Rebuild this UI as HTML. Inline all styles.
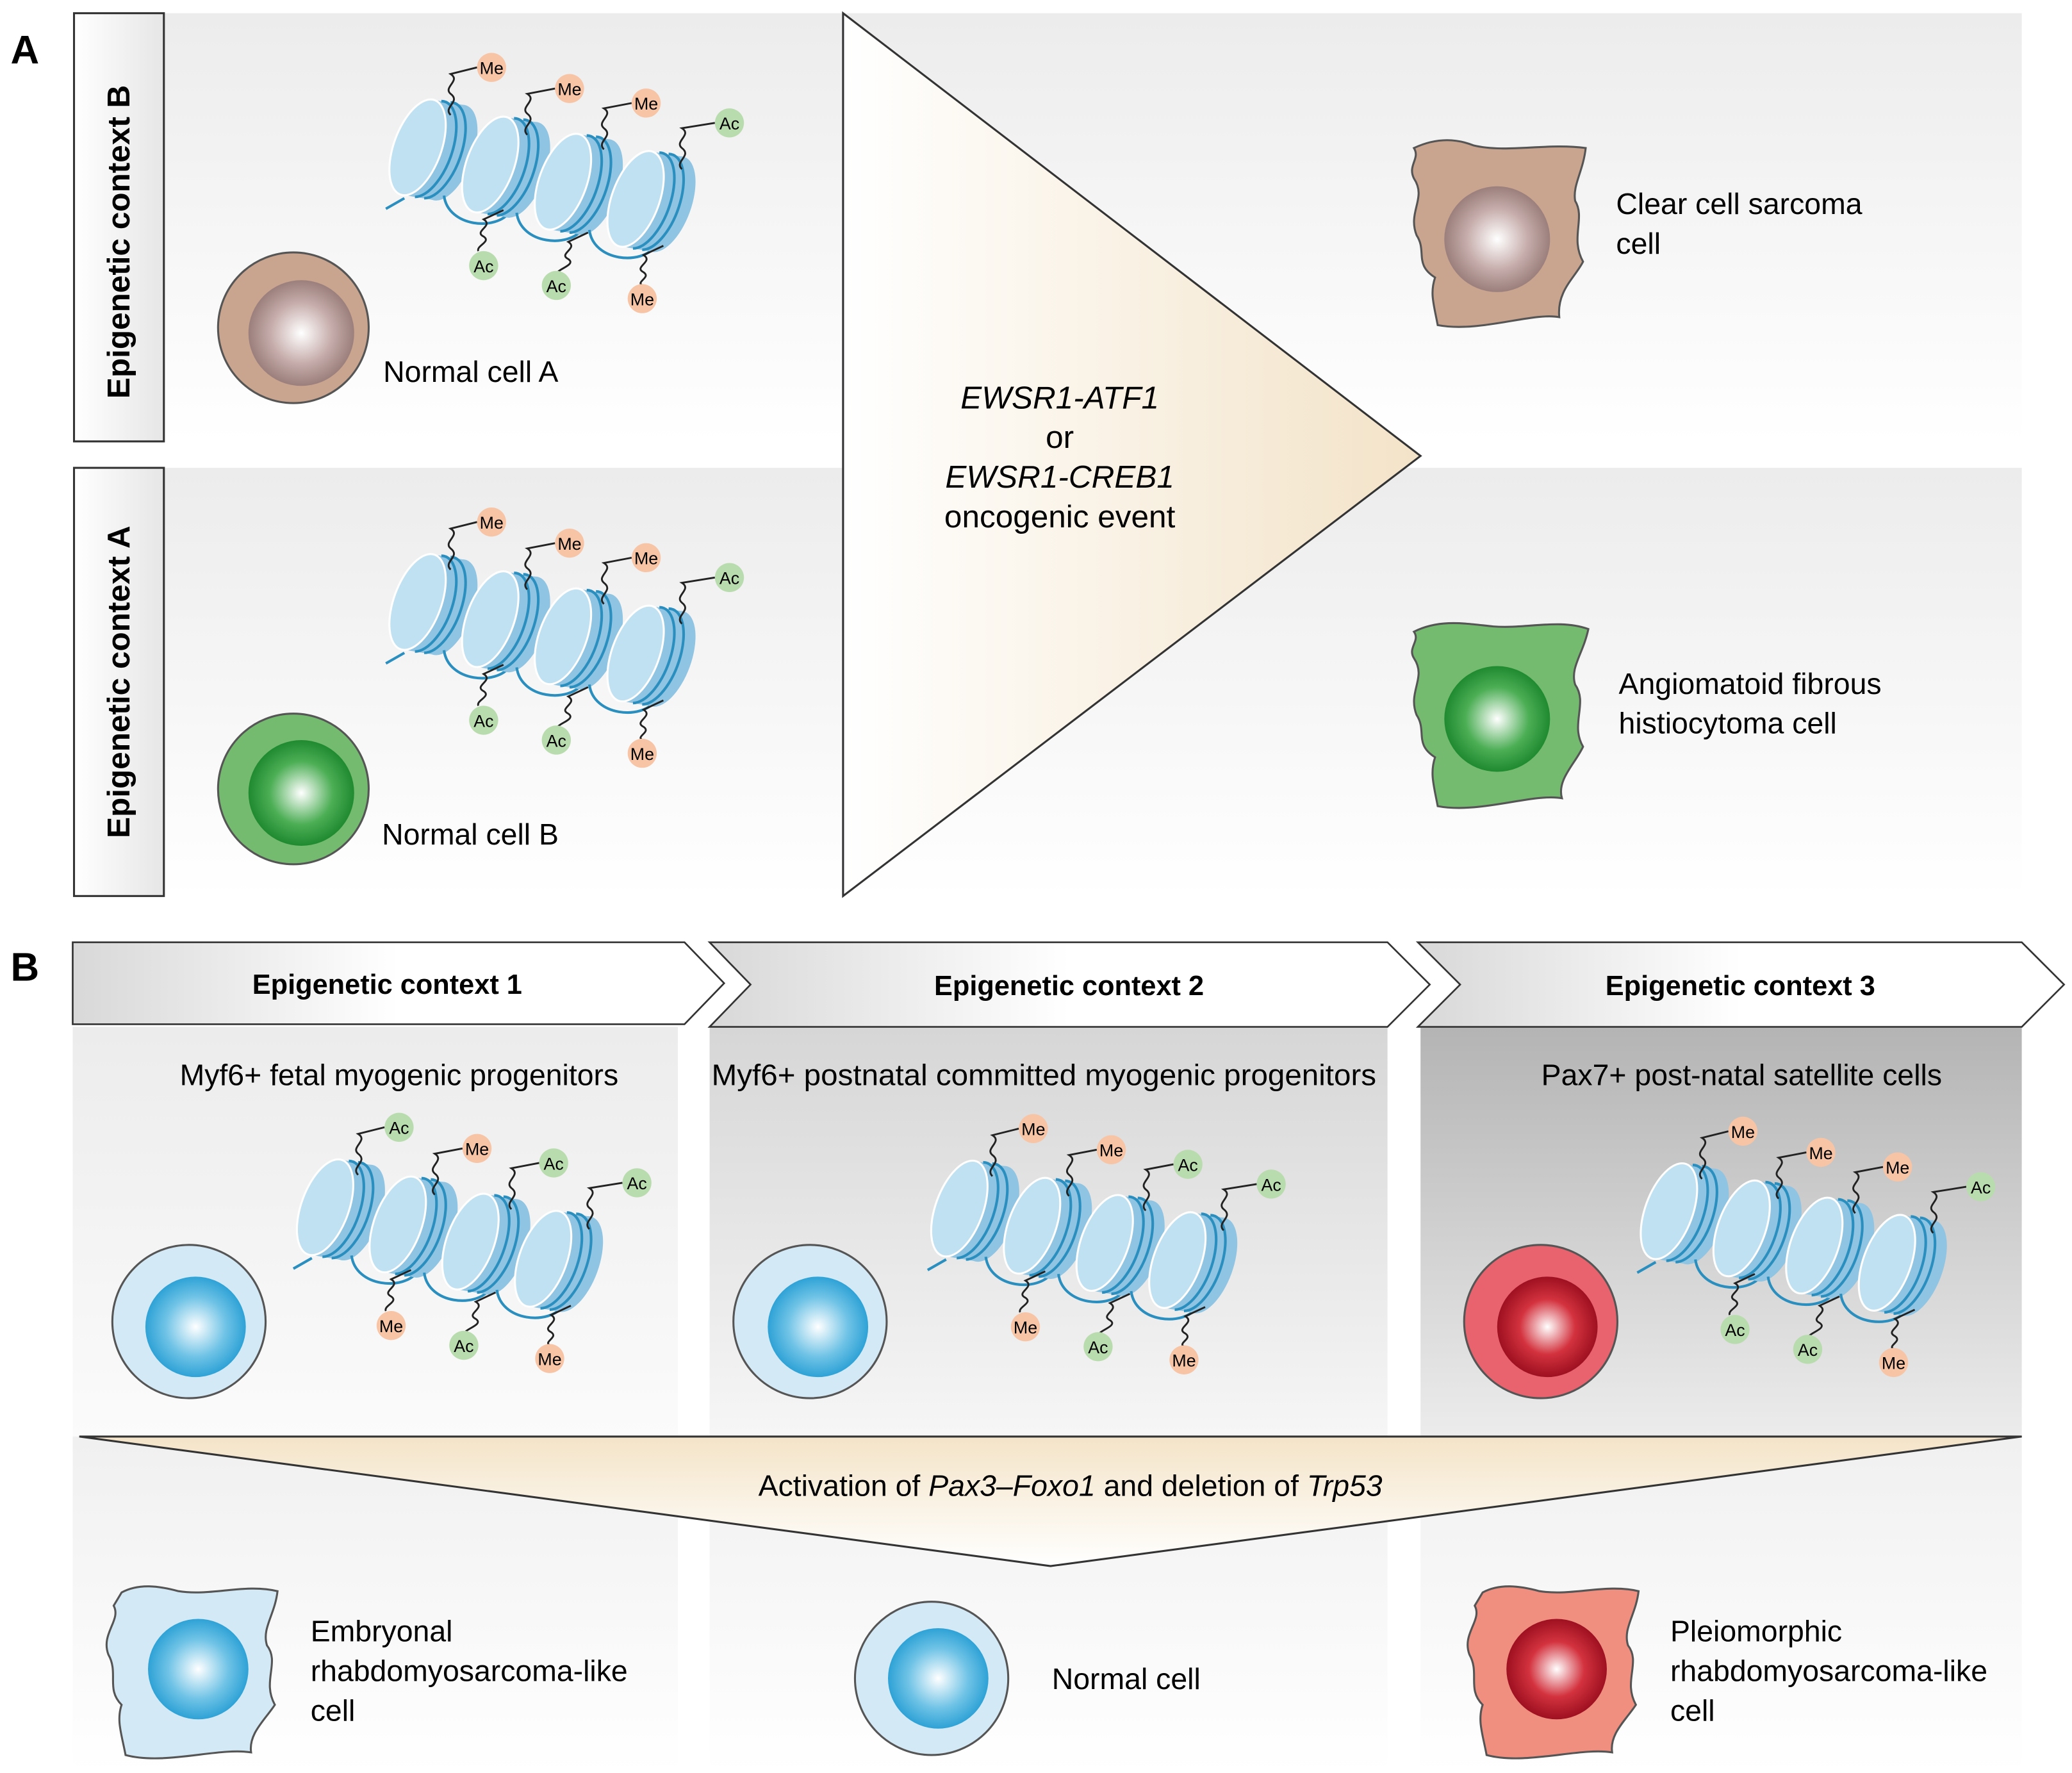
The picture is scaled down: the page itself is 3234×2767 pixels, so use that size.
<!DOCTYPE html>
<html><head><meta charset="utf-8"><style>html,body{margin:0;padding:0;background:#fff}svg{display:block}text{font-family:"Liberation Sans",sans-serif}</style></head><body>
<svg width="3234" height="2767" viewBox="0 0 1568 1341.6" xmlns="http://www.w3.org/2000/svg">
<defs>
<linearGradient id="bandA" x1="0" y1="0" x2="0" y2="1"><stop offset="0" stop-color="#ececec"/><stop offset="1" stop-color="#ffffff"/></linearGradient>
<linearGradient id="side" x1="0" y1="0" x2="1" y2="0"><stop offset="0" stop-color="#fff"/><stop offset="1" stop-color="#e6e6e6"/></linearGradient>
<linearGradient id="tri" x1="0" y1="0" x2="1" y2="0"><stop offset="0" stop-color="#ffffff"/><stop offset="1" stop-color="#f3e3c8"/></linearGradient>
<linearGradient id="tri2" x1="0" y1="0" x2="0" y2="1"><stop offset="0" stop-color="#f4e4c8"/><stop offset="1" stop-color="#ffffff"/></linearGradient>
<linearGradient id="chev" x1="0" y1="0" x2="1" y2="0"><stop offset="0" stop-color="#d8d8d8"/><stop offset="0.5" stop-color="#fff"/><stop offset="1" stop-color="#fff"/></linearGradient>
<linearGradient id="col1" x1="0" y1="0" x2="0" y2="1"><stop offset="0" stop-color="#ececec"/><stop offset="1" stop-color="#fbfbfb"/></linearGradient>
<linearGradient id="col2" x1="0" y1="0" x2="0" y2="1"><stop offset="0" stop-color="#d6d6d6"/><stop offset="1" stop-color="#f6f6f6"/></linearGradient>
<linearGradient id="col3" x1="0" y1="0" x2="0" y2="1"><stop offset="0" stop-color="#b4b4b4"/><stop offset="1" stop-color="#ececec"/></linearGradient>
<linearGradient id="colb" x1="0" y1="0" x2="0" y2="1"><stop offset="0" stop-color="#f0f0f0"/><stop offset="1" stop-color="#ffffff"/></linearGradient>
<radialGradient id="nBrown"><stop offset="0" stop-color="#fff"/><stop offset="0.6" stop-color="#c4aaa8"/><stop offset="1" stop-color="#9a7f7c"/></radialGradient>
<radialGradient id="nGreen"><stop offset="0" stop-color="#fff"/><stop offset="0.6" stop-color="#4cae55"/><stop offset="1" stop-color="#1f8a30"/></radialGradient>
<radialGradient id="nBlue"><stop offset="0" stop-color="#fff"/><stop offset="0.6" stop-color="#6fc3e6"/><stop offset="1" stop-color="#2ea2d6"/></radialGradient>
<radialGradient id="nRed"><stop offset="0" stop-color="#fff"/><stop offset="0.55" stop-color="#d3323e"/><stop offset="1" stop-color="#9e1020"/></radialGradient>
<g id="cyl">
 <path d="M9.9,-36.2 L33.9,-32.2 A18 38 20 0 1 14.1,40.2 L-9.9,36.2 Z" fill="#8fc4e2"/>
 <ellipse cx="24" cy="4" rx="18" ry="38" transform="rotate(20 24 4)" fill="#8fc4e2"/>
 <ellipse cx="0" cy="0" rx="18" ry="38" transform="rotate(20)" fill="#c0e1f2" stroke="#fff" stroke-width="1.5"/>
 <path d="M18,-35 A18 38 20 0 1 -2,37.5" fill="none" stroke="#2a8fbf" stroke-width="2"/>
 <path d="M25,-34 A18 38 20 0 1 5,38.5" fill="none" stroke="#2a8fbf" stroke-width="2"/>
</g>
<g id="nuc">
 <path d="M292,158 L306,150" stroke="#2a8fbf" stroke-width="2" fill="none"/>
 <use href="#cyl" x="316" y="111.5"/>
 <path d="M336,148 C339,172 376,175 386,160" stroke="#2a8fbf" stroke-width="2" fill="none"/>
 <use href="#cyl" x="371" y="124.5"/>
 <path d="M391,161 C394,185 431,188 441,173" stroke="#2a8fbf" stroke-width="2" fill="none"/>
 <use href="#cyl" x="426" y="137.5"/>
 <path d="M446,174 C449,198 486,201 496,186" stroke="#2a8fbf" stroke-width="2" fill="none"/>
 <use href="#cyl" x="481" y="150.5"/>
 <g fill="none" stroke="#222" stroke-width="1.4">
 <path d="M341,87 c-6,-6 8,-10 0,-16 c-6,-5 8,-10 0,-15 l20,-5"/>
 <path d="M399,102 c-6,-6 8,-10 0,-16 c-6,-5 8,-10 0,-15 l21,-4"/>
 <path d="M457,113 c-6,-6 8,-10 0,-16 c-6,-5 8,-10 0,-15 l21,-4"/>
 <path d="M516,128 c-6,-6 8,-10 0,-16 c-6,-5 8,-10 0,-15 l25,-4"/>
 <path d="M381,159 l-15,7 c8,5 -8,9 0,13 c6,4 -6,7 -4,11"/>
 <path d="M445,176 l-15,7 c8,5 -8,9 0,13 c6,4 -6,7 -8,10"/>
 <path d="M502,186 l-15,7 c8,5 -8,9 0,13 c6,4 -6,7 -1,10"/>
 </g>
</g>
</defs>

<rect x="124" y="10" width="1406" height="324" fill="url(#bandA)"/>
<rect x="124" y="354" width="1406" height="324" fill="url(#bandA)"/>
<rect x="56" y="10" width="68" height="324" fill="url(#side)" stroke="#333" stroke-width="1.5"/>
<rect x="56" y="354" width="68" height="324" fill="url(#side)" stroke="#333" stroke-width="1.5"/>
<text transform="translate(98,183) rotate(-90)" text-anchor="middle" font-size="24" font-weight="bold">Epigenetic context B</text>
<text transform="translate(98,516) rotate(-90)" text-anchor="middle" font-size="24" font-weight="bold">Epigenetic context A</text>
<text x="8" y="48" font-size="30" font-weight="bold">A</text>

<polygon points="638,10 1075,345 638,678" fill="url(#tri)" stroke="#333" stroke-width="1.5"/>
<g font-size="24" text-anchor="middle">
<text x="802" y="309" font-style="italic">EWSR1-ATF1</text>
<text x="802" y="339">or</text>
<text x="802" y="369" font-style="italic">EWSR1-CREB1</text>
<text x="802" y="399">oncogenic event</text>
</g>

<g>
<use href="#nuc"/>
<g font-size="13" text-anchor="middle">
<circle cx="372" cy="51" r="11" fill="#f7c4a5"/><text x="372" y="56">Me</text>
<circle cx="431" cy="67" r="11" fill="#f7c4a5"/><text x="431" y="72">Me</text>
<circle cx="489" cy="78" r="11" fill="#f7c4a5"/><text x="489" y="83">Me</text>
<circle cx="552" cy="93" r="11" fill="#b9dcae"/><text x="552" y="98">Ac</text>
<circle cx="366" cy="201" r="11" fill="#b9dcae"/><text x="366" y="206">Ac</text>
<circle cx="421" cy="216" r="11" fill="#b9dcae"/><text x="421" y="221">Ac</text>
<circle cx="486" cy="226" r="11" fill="#f7c4a5"/><text x="486" y="231">Me</text>
</g></g>
<g transform="translate(0,344)">
<use href="#nuc"/>
<g font-size="13" text-anchor="middle">
<circle cx="372" cy="51" r="11" fill="#f7c4a5"/><text x="372" y="56">Me</text>
<circle cx="431" cy="67" r="11" fill="#f7c4a5"/><text x="431" y="72">Me</text>
<circle cx="489" cy="78" r="11" fill="#f7c4a5"/><text x="489" y="83">Me</text>
<circle cx="552" cy="93" r="11" fill="#b9dcae"/><text x="552" y="98">Ac</text>
<circle cx="366" cy="201" r="11" fill="#b9dcae"/><text x="366" y="206">Ac</text>
<circle cx="421" cy="216" r="11" fill="#b9dcae"/><text x="421" y="221">Ac</text>
<circle cx="486" cy="226" r="11" fill="#f7c4a5"/><text x="486" y="231">Me</text>
</g></g>

<circle cx="222" cy="248" r="57" fill="#c9a48e" stroke="#555" stroke-width="1.5"/>
<circle cx="228" cy="252" r="40" fill="url(#nBrown)"/>
<text x="290" y="289" font-size="22.5">Normal cell A</text>
<circle cx="222" cy="597" r="57" fill="#74bb70" stroke="#555" stroke-width="1.5"/>
<circle cx="228" cy="600" r="40" fill="url(#nGreen)"/>
<text x="289" y="639" font-size="22.5">Normal cell B</text>

<path d="M1070,112 C1085,105 1100,104 1115,110 C1140,116 1170,108 1200,112 C1198,130 1190,140 1192,152 C1200,165 1188,180 1198,198 C1192,210 1178,220 1180,240 C1160,236 1120,252 1088,246 C1085,230 1082,222 1086,210 C1070,200 1080,190 1072,178 C1065,160 1080,150 1070,135 C1065,125 1075,120 1070,112 Z" fill="#c9a48e" stroke="#555" stroke-width="1.5"/>
<circle cx="1133" cy="181" r="40" fill="url(#nBrown)"/>
<text x="1223" y="162" font-size="22.5">Clear cell sarcoma</text>
<text x="1223" y="192" font-size="22.5">cell</text>
<path d="M1070,478 C1090,468 1110,472 1130,474 C1155,476 1180,468 1202,476 C1198,495 1188,505 1192,518 C1202,532 1188,548 1198,565 C1192,578 1178,590 1182,604 C1160,600 1120,616 1088,610 C1085,594 1082,585 1086,573 C1070,563 1080,553 1072,541 C1065,523 1080,513 1070,498 C1065,490 1075,485 1070,478 Z" fill="#74bb70" stroke="#555" stroke-width="1.5"/>
<circle cx="1133" cy="544" r="40" fill="url(#nGreen)"/>
<text x="1225" y="525" font-size="22.5">Angiomatoid fibrous</text>
<text x="1225" y="555" font-size="22.5">histiocytoma cell</text>

<text x="8" y="742" font-size="30" font-weight="bold">B</text>
<rect x="55" y="777" width="458" height="310" fill="url(#col1)"/>
<rect x="537" y="777" width="513" height="310" fill="url(#col2)"/>
<rect x="1075" y="777" width="455" height="310" fill="url(#col3)"/>
<rect x="55" y="1087" width="458" height="254" fill="url(#colb)"/>
<rect x="537" y="1087" width="513" height="254" fill="url(#colb)"/>
<rect x="1075" y="1087" width="455" height="254" fill="url(#colb)"/>
<polygon points="55,713 518,713 548,744 518,775 55,775" fill="url(#chev)" stroke="#333" stroke-width="1.3"/>
<polygon points="537,713 1050,713 1082,745 1050,777 537,777 568,745" fill="url(#chev)" stroke="#333" stroke-width="1.3"/>
<polygon points="1073,713 1530,713 1562,745 1530,777 1073,777 1105,745" fill="url(#chev)" stroke="#333" stroke-width="1.3"/>
<g font-size="21" font-weight="bold" text-anchor="middle">
<text x="293" y="752">Epigenetic context 1</text>
<text x="809" y="753">Epigenetic context 2</text>
<text x="1317" y="753">Epigenetic context 3</text>
</g>
<g font-size="22.5" text-anchor="middle">
<text x="302" y="821">Myf6+ fetal myogenic progenitors</text>
<text x="790" y="821" textLength="503" lengthAdjust="spacingAndGlyphs">Myf6+ postnatal committed myogenic progenitors</text>
<text x="1318" y="821">Pax7+ post-natal satellite cells</text>
</g>

<g transform="translate(-70,802)">
<use href="#nuc"/>
<g font-size="13" text-anchor="middle">
<circle cx="372" cy="51" r="11" fill="#b9dcae"/><text x="372" y="56">Ac</text>
<circle cx="431" cy="67" r="11" fill="#f7c4a5"/><text x="431" y="72">Me</text>
<circle cx="489" cy="78" r="11" fill="#b9dcae"/><text x="489" y="83">Ac</text>
<circle cx="552" cy="93" r="11" fill="#b9dcae"/><text x="552" y="98">Ac</text>
<circle cx="366" cy="201" r="11" fill="#f7c4a5"/><text x="366" y="206">Me</text>
<circle cx="421" cy="216" r="11" fill="#b9dcae"/><text x="421" y="221">Ac</text>
<circle cx="486" cy="226" r="11" fill="#f7c4a5"/><text x="486" y="231">Me</text>
</g></g>
<g transform="translate(410,803)">
<use href="#nuc"/>
<g font-size="13" text-anchor="middle">
<circle cx="372" cy="51" r="11" fill="#f7c4a5"/><text x="372" y="56">Me</text>
<circle cx="431" cy="67" r="11" fill="#f7c4a5"/><text x="431" y="72">Me</text>
<circle cx="489" cy="78" r="11" fill="#b9dcae"/><text x="489" y="83">Ac</text>
<circle cx="552" cy="93" r="11" fill="#b9dcae"/><text x="552" y="98">Ac</text>
<circle cx="366" cy="201" r="11" fill="#f7c4a5"/><text x="366" y="206">Me</text>
<circle cx="421" cy="216" r="11" fill="#b9dcae"/><text x="421" y="221">Ac</text>
<circle cx="486" cy="226" r="11" fill="#f7c4a5"/><text x="486" y="231">Me</text>
</g></g>
<g transform="translate(947,805)">
<use href="#nuc"/>
<g font-size="13" text-anchor="middle">
<circle cx="372" cy="51" r="11" fill="#f7c4a5"/><text x="372" y="56">Me</text>
<circle cx="431" cy="67" r="11" fill="#f7c4a5"/><text x="431" y="72">Me</text>
<circle cx="489" cy="78" r="11" fill="#f7c4a5"/><text x="489" y="83">Me</text>
<circle cx="552" cy="93" r="11" fill="#b9dcae"/><text x="552" y="98">Ac</text>
<circle cx="366" cy="201" r="11" fill="#b9dcae"/><text x="366" y="206">Ac</text>
<circle cx="421" cy="216" r="11" fill="#b9dcae"/><text x="421" y="221">Ac</text>
<circle cx="486" cy="226" r="11" fill="#f7c4a5"/><text x="486" y="231">Me</text>
</g></g>

<circle cx="143" cy="1000" r="58" fill="#d4e9f6" stroke="#555" stroke-width="1.5"/>
<circle cx="148" cy="1004" r="38" fill="url(#nBlue)"/>
<circle cx="613" cy="1000" r="58" fill="#d4e9f6" stroke="#555" stroke-width="1.5"/>
<circle cx="619" cy="1004" r="38" fill="url(#nBlue)"/>
<circle cx="1166" cy="1000" r="58" fill="#e8636e" stroke="#555" stroke-width="1.5"/>
<circle cx="1171" cy="1004" r="38" fill="url(#nRed)"/>

<polygon points="60,1087 1530,1087 795,1185" fill="url(#tri2)" stroke="#333" stroke-width="1.5"/>
<text x="810" y="1132" font-size="22.5" text-anchor="middle">Activation of <tspan font-style="italic">Pax3–Foxo1</tspan> and deletion of <tspan font-style="italic">Trp53</tspan></text>

<path d="M92,1205 C105,1198 120,1200 135,1204 C160,1208 185,1198 210,1204 C208,1222 198,1232 202,1245 C212,1258 198,1272 208,1290 C200,1302 188,1312 190,1326 C165,1322 125,1336 95,1328 C92,1312 88,1302 92,1290 C80,1278 90,1266 82,1252 C76,1236 92,1226 86,1215 Z" fill="#d4e9f6" stroke="#555" stroke-width="1.5"/>
<circle cx="150" cy="1263" r="38" fill="url(#nBlue)"/>
<g font-size="22.5">
<text x="235" y="1242">Embryonal</text>
<text x="235" y="1272">rhabdomyosarcoma-like</text>
<text x="235" y="1302">cell</text>
</g>
<circle cx="705" cy="1270" r="58" fill="#d4e9f6" stroke="#555" stroke-width="1.5"/>
<circle cx="710" cy="1270" r="38" fill="url(#nBlue)"/>
<text x="796" y="1278" font-size="22.5">Normal cell</text>
<path d="M1122,1205 C1135,1198 1150,1200 1165,1204 C1190,1208 1215,1198 1240,1204 C1238,1222 1228,1232 1232,1245 C1242,1258 1228,1272 1238,1290 C1230,1302 1218,1312 1220,1326 C1195,1322 1155,1336 1125,1328 C1122,1312 1118,1302 1122,1290 C1110,1278 1120,1266 1112,1252 C1106,1236 1122,1226 1116,1215 Z" fill="#f08f80" stroke="#555" stroke-width="1.5"/>
<circle cx="1178" cy="1263" r="38" fill="url(#nRed)"/>
<g font-size="22.5">
<text x="1264" y="1242">Pleiomorphic</text>
<text x="1264" y="1272">rhabdomyosarcoma-like</text>
<text x="1264" y="1302">cell</text>
</g>
</svg>
</body></html>
